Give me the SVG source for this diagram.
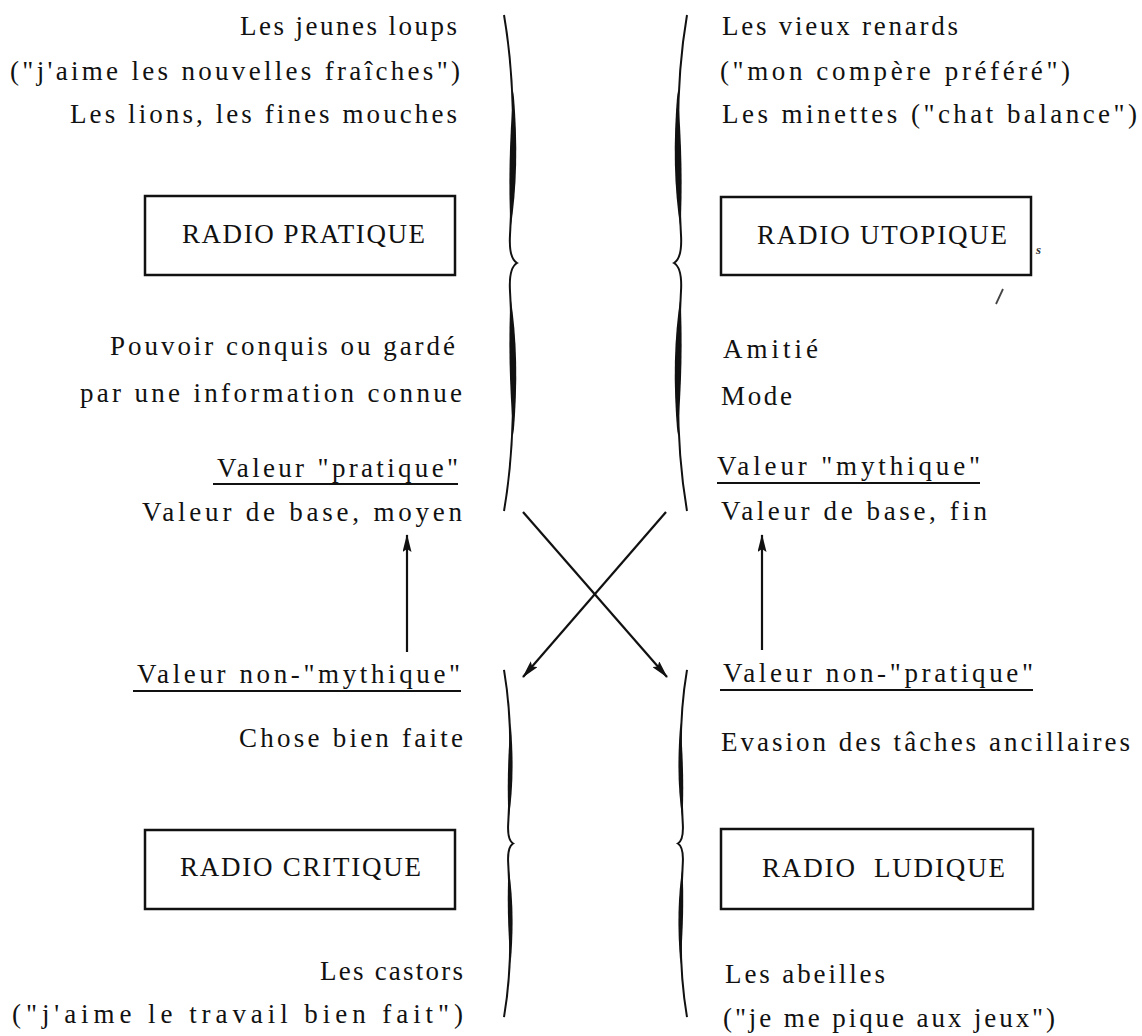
<svg xmlns="http://www.w3.org/2000/svg" width="1142" height="1036" viewBox="0 0 1142 1036">
<style>
  .t { font-family: "Liberation Serif", "DejaVu Serif", serif; font-size: 27px; fill: #111; }
  .lbl { font-family: "Liberation Serif", "DejaVu Serif", serif; font-size: 27px; fill: #111; white-space: pre; }
  .box { fill: none; stroke: #111; stroke-width: 2.5; }
  .ul { stroke: #111; stroke-width: 2.2; }
  .conn { stroke: #111; stroke-width: 2.2; fill: none; }
  .brace-line { fill: none; stroke: #111; stroke-width: 2; }
  .brace-fill { fill: #111; stroke: none; }
</style>
<defs>
  <marker id="arr" viewBox="0 0 18 9" refX="17" refY="4.5" markerWidth="18" markerHeight="9" markerUnits="userSpaceOnUse" orient="auto">
    <path d="M0,0 L18,4.5 L0,9 L3,4.5 Z" fill="#111"/>
  </marker>
  <g id="brace">
    <path class="brace-line" vector-effect="non-scaling-stroke" d="M 0,-248 C 6,-213 9,-173 9,-133 C 9,-83 7,-48 6,-28 C 5,-11 8,-3 13,0 C 8,3 5,11 6,28 C 7,48 9,83 9,133 C 9,173 6,213 0,248"/>
    <path class="brace-fill" d="M 9.5,-172 C 14,-120 13,-75 6.5,-34 C 4.5,-75 5,-120 9.5,-172 Z"/>
    <path class="brace-fill" d="M 6.5,34 C 13,75 14,120 9.5,172 C 5,120 4.5,75 6.5,34 Z"/>
  </g>
</defs>

<g id="braces">
  <use href="#brace" transform="translate(504,263)"/>
  <use href="#brace" transform="translate(687,263) scale(-1,1)"/>
  <use href="#brace" transform="translate(504,843.5) scale(0.7)"/>
  <use href="#brace" transform="translate(687,843.5) scale(-0.7,0.7)"/>
</g>

<g id="connectors">
  <line class="conn" x1="523" y1="512" x2="667" y2="677" marker-end="url(#arr)"/>
  <line class="conn" x1="666" y1="512" x2="523" y2="677" marker-end="url(#arr)"/>
  <line class="conn" x1="407" y1="652" x2="407" y2="535" marker-end="url(#arr)"/>
  <line class="conn" x1="762" y1="650" x2="762" y2="535" marker-end="url(#arr)"/>
</g>

<g id="top-left-text">
  <text class="t" x="240" y="35" textLength="217" lengthAdjust="spacing">Les jeunes loups</text>
  <text class="t" x="10" y="80" textLength="450" lengthAdjust="spacing">("j'aime les nouvelles fraîches")</text>
  <text class="t" x="70" y="123" textLength="387" lengthAdjust="spacing">Les lions, les fines mouches</text>
</g>

<g id="top-right-text">
  <text class="t" x="722" y="35" textLength="236" lengthAdjust="spacing">Les vieux renards</text>
  <text class="t" x="720" y="80" textLength="350" lengthAdjust="spacing">("mon compère préféré")</text>
  <text class="t" x="722" y="123" textLength="415" lengthAdjust="spacing">Les minettes ("chat balance")</text>
</g>

<g id="radio-pratique">
  <rect class="box" x="145" y="196" width="310" height="79"/>
  <text class="lbl" x="182" y="243" textLength="243" lengthAdjust="spacing">RADIO PRATIQUE</text>
</g>

<g id="radio-utopique">
  <rect class="box" x="721" y="197" width="310" height="78"/>
  <text class="lbl" x="757" y="244" textLength="250" lengthAdjust="spacing">RADIO UTOPIQUE</text>
</g>

<g id="marks">
  <text x="1036" y="254" style="font-family: 'Liberation Serif', serif; font-size: 13px; font-style: italic; font-weight: bold; fill: #333;">s</text>
  <line x1="1003" y1="289" x2="996" y2="304" stroke="#444" stroke-width="1.8"/>
</g>

<g id="mid-left-text">
  <text class="t" x="110" y="355" textLength="345" lengthAdjust="spacing">Pouvoir conquis ou gardé</text>
  <text class="t" x="80" y="402" textLength="382" lengthAdjust="spacing">par une information connue</text>
</g>

<g id="valeur-pratique">
  <text class="t" x="217" y="477" textLength="241" lengthAdjust="spacing">Valeur "pratique"</text>
  <line class="ul" x1="213" y1="484" x2="458" y2="484"/>
  <text class="t" x="142" y="521" textLength="320" lengthAdjust="spacing">Valeur de base, moyen</text>
</g>

<g id="mid-right-text">
  <text class="t" x="723" y="358" textLength="95" lengthAdjust="spacing">Amitié</text>
  <text class="t" x="721" y="405" textLength="71" lengthAdjust="spacing">Mode</text>
</g>

<g id="valeur-mythique">
  <text class="t" x="717" y="475" textLength="263" lengthAdjust="spacing">Valeur "mythique"</text>
  <line class="ul" x1="717" y1="483" x2="980" y2="483"/>
  <text class="t" x="721" y="520" textLength="266" lengthAdjust="spacing">Valeur de base, fin</text>
</g>

<g id="valeur-non-mythique">
  <text class="t" x="137" y="683" textLength="323" lengthAdjust="spacing">Valeur non-"mythique"</text>
  <line class="ul" x1="133" y1="691" x2="461" y2="691"/>
  <text class="t" x="239" y="747" textLength="224" lengthAdjust="spacing">Chose bien faite</text>
</g>

<g id="valeur-non-pratique">
  <text class="t" x="723" y="682" textLength="310" lengthAdjust="spacing">Valeur non-"pratique"</text>
  <line class="ul" x1="720" y1="690" x2="1033" y2="690"/>
  <text class="t" x="721" y="751" textLength="409" lengthAdjust="spacing">Evasion des tâches ancillaires</text>
</g>

<g id="radio-critique">
  <rect class="box" x="145" y="830" width="310" height="79"/>
  <text class="lbl" x="180" y="876" textLength="241" lengthAdjust="spacing">RADIO CRITIQUE</text>
</g>

<g id="radio-ludique">
  <rect class="box" x="721" y="829" width="312" height="80"/>
  <text class="lbl" x="762" y="877" textLength="243" lengthAdjust="spacing">RADIO  LUDIQUE</text>
</g>

<g id="bottom-left-text">
  <text class="t" x="320" y="980" textLength="143" lengthAdjust="spacing">Les castors</text>
  <text class="t" x="12" y="1023" textLength="451" lengthAdjust="spacing">("j'aime le travail bien fait")</text>
</g>

<g id="bottom-right-text">
  <text class="t" x="725" y="983" textLength="160" lengthAdjust="spacing">Les abeilles</text>
  <text class="t" x="723" y="1027" textLength="332" lengthAdjust="spacing">("je me pique aux jeux")</text>
</g>
</svg>
